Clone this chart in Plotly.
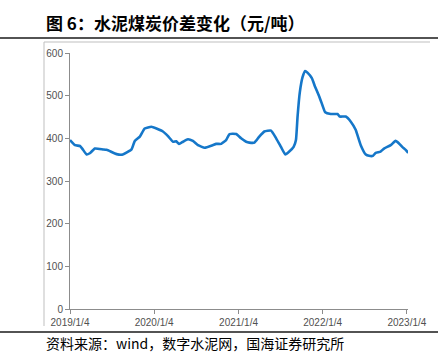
import plotly.graph_objects as go

dates = ["2019-01-04","2019-01-26","2019-02-16","2019-02-26","2019-03-17","2019-03-31","2019-04-22",
         "2019-05-27","2019-06-12","2019-07-25","2019-08-21","2019-09-28","2019-10-12","2019-11-03",
         "2019-11-24","2019-12-23","2020-01-14","2020-02-11","2020-03-04","2020-03-26","2020-04-09",
         "2020-04-21","2020-05-08","2020-05-29","2020-06-20","2020-07-12","2020-08-10","2020-09-14",
         "2020-09-29","2020-10-21","2020-11-11","2020-11-26","2020-12-25","2021-01-15","2021-02-06",
         "2021-02-20","2021-03-14","2021-04-04","2021-04-26","2021-05-25","2021-06-16","2021-07-07",
         "2021-07-26","2021-08-12","2021-08-31","2021-09-10","2021-09-17","2021-09-27","2021-10-09",
         "2021-10-20","2021-10-30","2021-11-18","2021-12-02","2021-12-20","2021-12-31","2022-01-15",
         "2022-02-08","2022-03-09","2022-03-19","2022-04-14","2022-05-06","2022-05-27","2022-06-18",
         "2022-07-10","2022-07-24","2022-08-10","2022-08-22","2022-09-12","2022-09-27","2022-10-26",
         "2022-11-16","2022-12-01","2022-12-15","2022-12-30","2023-01-10"]
values = [396,384,382,376,362,365,376,
          374,373,363,362,374,394,404,
          423,427,423,416,405,392,393,
          387,392,398,394,384,378,384,
          387,387,396,410,410,400,392,
          390,390,404,416,418,400,380,
          362,369,380,396,451,509,544,
          558,554,541,521,498,482,461,
          457,457,451,451,439,420,384,
          362,359,359,366,369,376,384,
          394,388,380,373,366]

tick_vals = ["2019-01-04","2020-01-04","2021-01-04","2022-01-04","2023-01-04"]
tick_text = ["2019/1/4","2020/1/4","2021/1/4","2022/1/4","2023/1/4"]

title_text = "<b>图 6：水泥煤炭价差变化（元/吨）</b>"
source_text = "资料来源：wind，数字水泥网，国海证券研究所"

fig = go.Figure()
fig.add_trace(go.Scatter(x=dates, y=values, mode="lines",
                         line=dict(color="#1577C9", width=2.6, shape="spline", smoothing=0.4),
                         showlegend=False, hoverinfo="skip"))

L, R, T, B = 70, 408, 53, 309
W, H = 448, 358
def px(x): return (x - L) / (R - L)
def py(y): return (B - y) / (B - T)

fig.update_layout(
    width=W, height=H,
    margin=dict(l=L, r=W - R, t=T, b=H - B),
    paper_bgcolor="white", plot_bgcolor="white",
    font=dict(family="Liberation Sans, Arial", size=10, color="#404040"),
    xaxis=dict(type="date", range=["2019-01-04", "2023-01-09"],
               tickvals=tick_vals, ticktext=tick_text,
               showgrid=False, zeroline=False, showline=True, linecolor="#8c8c8c", linewidth=1,
               ticks="outside", ticklen=4, tickcolor="#8c8c8c",
               tickfont=dict(size=10, color="#505050")),
    yaxis=dict(range=[0, 600], dtick=100, showgrid=False, zeroline=False,
               showline=True, linecolor="#8c8c8c", linewidth=1,
               ticks="outside", ticklen=4, tickcolor="#8c8c8c",
               tickfont=dict(size=10, color="#505050")),
    shapes=[
        dict(type="line", xref="paper", yref="paper", x0=px(0), x1=px(438), y0=py(38), y1=py(38),
             line=dict(color="#1a1a1a", width=1.3)),
        dict(type="line", xref="paper", yref="paper", x0=px(44), x1=px(430), y0=py(42), y1=py(42),
             line=dict(color="#bfbfbf", width=1)),
        dict(type="line", xref="paper", yref="paper", x0=px(44), x1=px(44), y0=py(42), y1=py(326),
             line=dict(color="#bfbfbf", width=1)),
        dict(type="line", xref="paper", yref="paper", x0=px(0), x1=px(438), y0=py(332), y1=py(332),
             line=dict(color="#1a1a1a", width=1.3)),
    ],
    annotations=[
        dict(text=title_text, xref="paper", yref="paper", x=px(44), y=py(22),
             xanchor="left", yanchor="middle", showarrow=False,
             font=dict(family="Noto Sans CJK SC", size=17, color="#000000")),
        dict(text=source_text, xref="paper", yref="paper", x=px(44), y=py(343),
             xanchor="left", yanchor="middle", showarrow=False,
             font=dict(family="Noto Sans CJK SC", size=14, color="#000000")),
    ],
)

fig.write_html("out.html", config={"displayModeBar": False},
               post_script="document.body.style.margin='0';document.body.style.padding='0';")
